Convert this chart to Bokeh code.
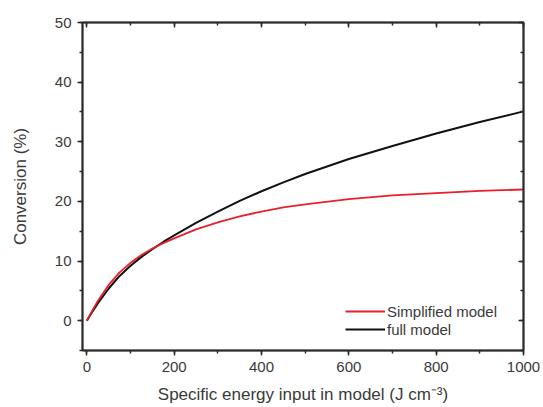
from bokeh.plotting import figure
from bokeh.models import (Range1d, SingleIntervalTicker, LinearAxis, Legend, LegendItem,
                          CustomJSTickFormatter)
from bokeh.embed import file_html
from bokeh.resources import INLINE

# Data
energy = [0, 10, 25, 50, 75, 100, 125, 150, 175, 200, 250, 300, 350, 400, 450, 500, 600, 700, 800, 900, 1000]
simplified = [0, 1.4, 3.3, 6.0, 8.1, 9.7, 11.0, 12.1, 13.0, 13.8, 15.3, 16.5, 17.5, 18.3, 19.0, 19.5, 20.4, 21.0, 21.4, 21.75, 22.0]
full = [0, 1.2, 2.9, 5.4, 7.5, 9.2, 10.7, 12.0, 13.2, 14.3, 16.4, 18.3, 20.1, 21.7, 23.2, 24.6, 27.1, 29.3, 31.4, 33.3, 35.1]

x_ticks_interval = 200
y_ticks_interval = 10
x_label = "Specific energy input in model (J cm\u207b\u00b3)"
y_label = "Conversion (%)"
series_names = ["Simplified model", "full model"]

FONT = "Liberation Sans"
AX_COLOR = "#2b2b2b"
TXT_COLOR = "#3a3a3a"

p = figure(width=543, height=407, output_backend="svg", toolbar_location=None,
           x_range=Range1d(-10, 1000), y_range=Range1d(-5, 50),
           x_axis_location=None, y_axis_location=None)
p.min_border_left = 82
p.min_border_right = 20
p.min_border_top = 22
p.min_border_bottom = 57
p.grid.visible = False
p.outline_line_color = AX_COLOR
p.outline_line_width = 1.5
p.background_fill_color = "white"
p.border_fill_color = "white"


def make_axis(interval, show_labels, inward, label=None, label_standoff=8):
    ax = LinearAxis(ticker=SingleIntervalTicker(interval=interval, num_minor_ticks=2))
    ax.axis_line_color = AX_COLOR
    ax.axis_line_width = 2
    ax.major_tick_line_color = AX_COLOR
    ax.minor_tick_line_color = AX_COLOR
    ax.major_tick_line_width = 1.5
    ax.minor_tick_line_width = 1.5
    if inward:
        ax.major_tick_in = 5
        ax.major_tick_out = 0
        ax.minor_tick_in = 3
        ax.minor_tick_out = 0
    else:
        ax.major_tick_in = 0
        ax.major_tick_out = 5
        ax.minor_tick_in = 0
        ax.minor_tick_out = 3
    ax.major_label_text_font = FONT
    ax.major_label_text_color = TXT_COLOR
    ax.major_label_text_font_size = "15px"
    if show_labels:
        ax.major_label_standoff = 6
    else:
        ax.formatter = CustomJSTickFormatter(code="return ''")
        ax.major_label_standoff = 0
    if label:
        ax.axis_label = label
        ax.axis_label_text_font = FONT
        ax.axis_label_text_font_size = "17px"
        ax.axis_label_text_font_style = "normal"
        ax.axis_label_text_color = TXT_COLOR
        ax.axis_label_standoff = label_standoff
    return ax


bottom = make_axis(x_ticks_interval, True, False, x_label, 10)
left = make_axis(y_ticks_interval, True, False, y_label, 22)
top = make_axis(x_ticks_interval, False, True)
right = make_axis(y_ticks_interval, False, True)
p.add_layout(bottom, "below")
p.add_layout(left, "left")
p.add_layout(top, "above")
p.add_layout(right, "right")

r_full = p.line(energy, full, line_color="#111111", line_width=2)
r_simp = p.line(energy, simplified, line_color="#e8202a", line_width=1.8)

legend = Legend(items=[LegendItem(label=series_names[0], renderers=[r_simp]),
                       LegendItem(label=series_names[1], renderers=[r_full])],
                location=(263, 12))
legend.border_line_color = None
legend.background_fill_alpha = 0
legend.padding = 0
legend.margin = 0
legend.spacing = 0
legend.glyph_width = 40
legend.glyph_height = 18
legend.label_height = 18
legend.label_standoff = 2
legend.label_text_font = FONT
legend.label_text_font_size = "15px"
legend.label_text_color = TXT_COLOR
p.add_layout(legend, "center")

open("out.html", "w").write(file_html(p, INLINE))
